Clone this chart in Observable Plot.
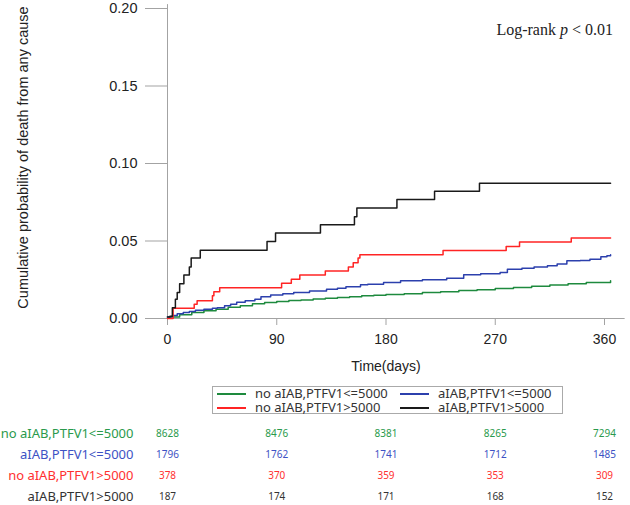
<!DOCTYPE html>
<html><head><meta charset="utf-8">
<script src="https://cdn.jsdelivr.net/npm/d3@7"></script>
<script src="https://cdn.jsdelivr.net/npm/@observablehq/plot@0.6"></script>
<style>
body{margin:0;background:#fff;}
#wrap{position:relative;width:630px;height:505px;overflow:hidden;background:#fff;}
#main{position:absolute;left:0;top:0;}
#risk{position:absolute;left:0;top:420px;}
#logrank{position:absolute;right:17px;top:21px;font-family:"Liberation Serif","Times New Roman",serif;font-size:16px;color:#222;white-space:nowrap;}
#legend{position:absolute;left:212px;top:386px;width:349px;height:26px;border:1px solid #aaa;font-family:"Noto Sans",sans-serif;font-size:13px;color:#333;}
.li{position:absolute;height:13px;white-space:nowrap;}
.sw{position:absolute;left:0;top:6px;width:29px;height:1.5px;}
.tx{position:absolute;left:38px;top:0;font-size:13px;line-height:13px;}
</style></head>
<body>
<div id="wrap">
  <div id="main"></div>
  <div id="logrank">Log-rank <i>p</i> &lt; 0.01</div>
  <div id="legend"></div>
  <div id="risk"></div>
</div>
<script>
// ---- data ----
const groups = ["no aIAB,PTFV1<=5000", "aIAB,PTFV1<=5000", "no aIAB,PTFV1>5000", "aIAB,PTFV1>5000"];
const colors = ["#1e8a3e", "#2c40ad", "#ff2424", "#1a1a1a"];
const tableColors = ["#2a9a4c", "#3d52c4", "#ff3030", "#333333"];
const xTicks = [0, 90, 180, 270, 360];
const yTicks = [0, 0.05, 0.10, 0.15, 0.20];

const greenT = [0,10,20,30,40,50,60,70,80,90,100,110,120,130,140,150,160,170,180,195,210,225,240,255,270,285,300,315,330,345,365];
const greenP = [0.001,0.0025,0.0038,0.005,0.006,0.0072,0.0083,0.0095,0.0103,0.011,0.0116,0.012,0.0126,0.0131,0.0136,0.0141,0.0146,0.015,0.0155,0.016,0.0167,0.0173,0.018,0.0186,0.0193,0.02,0.0208,0.0216,0.0225,0.0233,0.0243];

const blueT = [0,4,8,13,18,23,30,37,41,47,52,57,64,72,77,85,95,104,117,131,140,147,159,165,178,192,210,230,244,258,274,280,292,302,313,321,329,340,348,357,362,365];
const blueP = [0.001,0.002,0.003,0.0038,0.0045,0.0053,0.006,0.0066,0.007,0.0082,0.0092,0.0105,0.0115,0.0125,0.014,0.0152,0.016,0.0167,0.0178,0.0189,0.0195,0.0205,0.0217,0.0221,0.0232,0.0243,0.025,0.026,0.0282,0.0288,0.0297,0.0318,0.0325,0.0333,0.034,0.0351,0.0372,0.0375,0.0383,0.0398,0.0405,0.0411];

const redT = [0,4.6,22,24.4,37,38.2,43,94,102,109,130,149,153,157,158.5,227,279,290,332.6,365];
const redP = [0,0.0066,0.0092,0.0115,0.0146,0.0173,0.0199,0.0228,0.0254,0.028,0.0307,0.0333,0.036,0.039,0.0411,0.0439,0.0465,0.0493,0.0519,0.0519];

const blackT = [0,2,4,6.5,8,10,13.5,18,19.5,27,82,89,126,154,156,189,220,257,365];
const blackP = [0.001,0.0015,0.007,0.0124,0.0167,0.0225,0.028,0.0333,0.039,0.0441,0.0497,0.0551,0.0605,0.0657,0.0713,0.0767,0.0821,0.0873,0.0873];

const riskGreen = [8628, 8476, 8381, 8265, 7294];
const riskBlue  = [1796, 1762, 1741, 1712, 1485];
const riskRed   = [378, 370, 359, 353, 309];
const riskBlack = [187, 174, 171, 168, 152];

const yLabel = "Cumulative probability of death from any cause";
const xLabel = "Time(days)";

// ---- build tables ----
const seriesT = [greenT, blueT, redT, blackT];
const seriesP = [greenP, blueP, redP, blackP];
const curves = [];
groups.forEach((g, i) => seriesT[i].forEach((t, j) => curves.push({g, t, p: seriesP[i][j], c: colors[i]})));

const riskRows = [riskGreen, riskBlue, riskRed, riskBlack];
const riskData = [];
groups.forEach((g, i) => riskRows[i].forEach((n, j) => riskData.push({g, t: xTicks[j], n, c: tableColors[i]})));

const axisGray = "#a3a3a3";

const main = Plot.plot({
  width: 630, height: 380,
  marginTop: 8, marginLeft: 167, marginRight: 26, marginBottom: 62,
  x: {domain: [0, 360]},
  y: {domain: [0, 0.2]},
  color: {type: "identity"},
  style: {fontFamily: "'Liberation Sans', Arial, sans-serif", fontSize: "14px", color: "#222", background: "white"},
  marks: [
    Plot.ruleY([0], {x1: -18, x2: 377, stroke: axisGray}),
    Plot.ruleX([0], {y1: 0, y2: 0.2025, stroke: axisGray}),
    Plot.axisY({ticks: yTicks, tickSize: 22, tickPadding: 8, tickFormat: d3.format(".2f"), label: null, stroke: axisGray, fontSize: 14.5}),
    Plot.axisX({ticks: xTicks, tickSize: 7, tickPadding: 9, tickFormat: d => String(d), label: null, stroke: axisGray}),
    Plot.text([xLabel], {frameAnchor: "bottom", dy: 48, lineAnchor: "middle", fontSize: 14}),
    Plot.text([yLabel], {frameAnchor: "left", rotate: -90, dx: -144, dy: -6, textAnchor: "middle", lineAnchor: "middle", fontSize: 14.5}),
    Plot.line(curves, {x: "t", y: "p", z: "g", stroke: "c", curve: "step-after", strokeWidth: 1.5})
  ]
});
document.getElementById("main").appendChild(main);

// legend
const legend = document.getElementById("legend");
const legPos = [[4, 0], [187, 0], [4, 14], [187, 14]];
groups.forEach((g, i) => {
  const d = document.createElement("div");
  d.className = "li";
  d.style.left = legPos[i][0] + "px";
  d.style.top = legPos[i][1] + "px";
  const sw = document.createElement("div");
  sw.className = "sw";
  sw.style.background = colors[i];
  const tx = document.createElement("div");
  tx.className = "tx";
  tx.textContent = g;
  d.appendChild(sw); d.appendChild(tx);
  legend.appendChild(d);
});

const risk = Plot.plot({
  width: 630, height: 85,
  marginTop: 0, marginBottom: 0, marginLeft: 167, marginRight: 26,
  x: {domain: [0, 360], axis: null},
  y: {type: "point", domain: groups, range: [12, 76], padding: 0, axis: null},
  color: {type: "identity"},
  style: {fontFamily: "'Noto Sans', sans-serif", background: "white"},
  marks: [
    Plot.text(riskData, {x: "t", y: "g", text: d => String(d.n), fill: "c", fontSize: 10}),
    Plot.text(groups, {y: d => d, frameAnchor: "left", dx: -34, textAnchor: "end", fill: (d, i) => tableColors[i], fontSize: 13})
  ]
});
document.getElementById("risk").appendChild(risk);
</script>
</body></html>
